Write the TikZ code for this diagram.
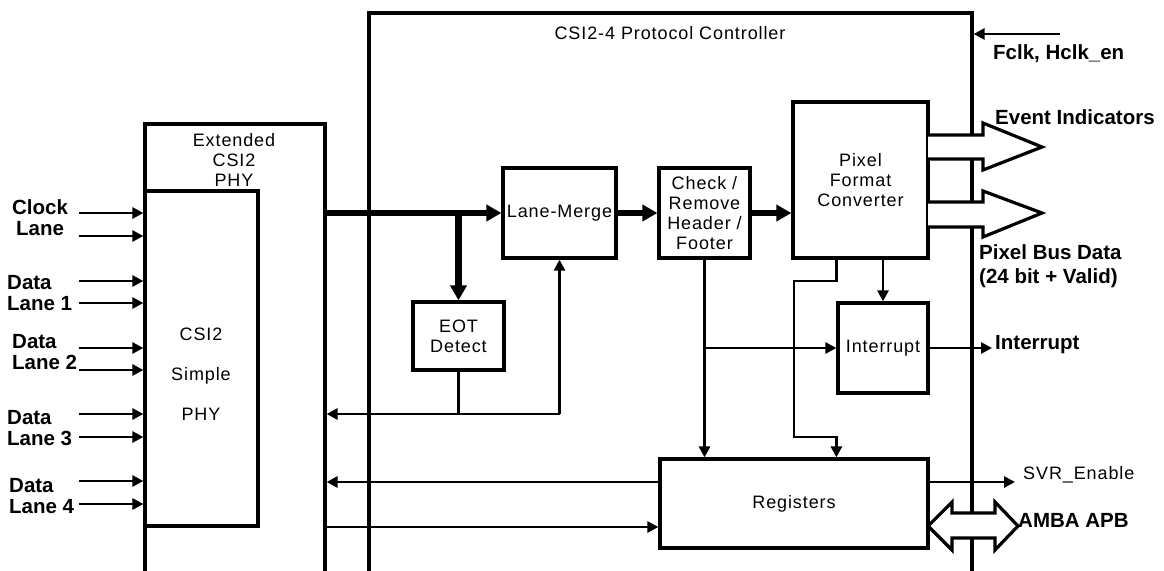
\documentclass[tikz,border=0pt]{standalone}
\usepackage{fontspec}
\setmainfont{Liberation Sans}
\newfontfamily\trk[LetterSpace=5]{Liberation Sans}
\usetikzlibrary{arrows.meta}
\begin{document}
\begin{tikzpicture}[x=1pt,y=-1pt,
  blk/.style={draw, line width=3.2pt, inner sep=0pt, font=\trk\fontsize{18}{20}\selectfont, align=center},
  arr/.style={line width=2.9pt, -{Triangle[length=11pt,width=11pt]}},
  ln/.style={line width=2.9pt},
  bus/.style={line width=6.5pt, -{Triangle[length=15pt,width=16pt]}},
  lbl/.style={font=\bfseries\fontsize{20.5}{21}\selectfont, inner sep=0pt},
  rt/.style={font=\trk\fontsize{18}{20}\selectfont, inner sep=0pt},
  hollow/.style={draw, fill=white, line width=3.2pt, line join=miter}]
\useasboundingbox (0,0) rectangle (1164,570);
\clip (0,0) rectangle (1164,570);
\fill[white] (0,0) rectangle (1164,570);

% big boxes
\node[blk, minimum width=603pt, minimum height=607pt] (pc) at (670.5,316.5) {};
\node[blk, minimum width=180pt, minimum height=496pt] (phyout) at (235,372) {};
\node[blk, minimum width=113pt, minimum height=335pt] (phyin) at (201.5,358.5) {};
\node[rt, align=center] (exttxt) at (234,160) {Extended\\CSI2\\PHY};
\node[rt, align=center, font=\trk\fontsize{18}{40}\selectfont] (simtxt) at (201,374) {CSI2\\Simple\\PHY};
\node[rt, anchor=base] (pctitle) at (670,39.5) {CSI2-4 Protocol Controller};

% inner blocks
\node[blk, minimum width=113pt, minimum height=90pt] (lm) at (559.5,213) {Lane-Merge};
\node[blk, minimum width=91pt, minimum height=90pt] (crh) at (704.5,213) {Check /\\Remove\\Header /\\Footer};
\node[blk, minimum width=135pt, minimum height=156pt] (pfc) at (860.5,180) {Pixel\\Format\\Converter};
\node[blk, minimum width=91pt, minimum height=68pt] (eot) at (458.5,336) {EOT\\Detect};
\node[blk, minimum width=90pt, minimum height=90pt] (intr) at (883,348) {Interrupt};
\node[blk, minimum width=268pt, minimum height=89pt] (reg) at (794,503.5) {Registers};

% input lanes
\foreach \n/\y in {c1/213,c2/236,d1a/281,d1b/303,d2a/348,d2b/370,d3a/414,d3b/437,d4a/481,d4b/504}{
  \coordinate (\n) at (79,\y);
  \draw[arr] (\n) -- (\n -| phyin.west);
}
\node[lbl, align=center] (lclk) at (40,217.5) {Clock\\Lane};
\node[lbl, align=left, anchor=west] (ld1) at (7,293) {Data\\Lane 1};
\node[lbl, align=left, anchor=west] (ld2) at (12,352) {Data\\Lane 2};
\node[lbl, align=left, anchor=west] (ld3) at (7,428) {Data\\Lane 3};
\node[lbl, align=left, anchor=west] (ld4) at (9,496.5) {Data\\Lane 4};

% main bus
\draw[bus] (lm.west -| phyout.east) -- (lm.west);
\draw[bus] (eot.north |- lm.west) -- (eot.north);
\draw[bus] (lm.east) -- (crh.west);
\draw[bus] (crh.east) -- (crh.east -| pfc.west);

% EOT / feedback
\coordinate (fb) at (560,414);
\draw[arr] (eot.south) |- (fb -| phyout.east);
\draw[ln] (eot.south |- fb) -- (lm.south |- fb);
\draw[arr] (lm.south |- fb) -- (lm.south);

% check -> registers / interrupt
\draw[arr] (crh.south) -- (crh.south |- reg.north);
\draw[arr] (crh.south |- intr.west) -- (intr.west);

% pixel -> interrupt / registers
\coordinate (k1) at (794,281);
\coordinate (k2) at (794,437);
\draw[arr, line join=miter] (pfc.south -| intr.west) |- (k1) -- (k2) -| (intr.west |- reg.north);
\draw[arr] (intr.north |- pfc.south) -- (intr.north);

% registers <-> phy
\coordinate (ra) at (325,482);
\coordinate (rb) at (325,527);
\draw[arr] (reg.west |- ra) -- (ra -| phyout.east);
\draw[arr] (rb -| phyout.east) -- (reg.west |- rb);

% outputs
\coordinate (iout) at (992,348);
\draw[arr] (intr.east) -- (iout);
\coordinate (svr) at (1015,482);
\draw[arr] (svr -| reg.east) -- (svr);
\coordinate (fck) at (1060,34);
\draw[arr] (fck) -- (fck -| pc.east);

% hollow bus arrows
\draw[hollow] (928,135) -- (983,135) -- (983,123) -- (1042,147) -- (983,170) -- (983,159) -- (928,159);
\draw[hollow] (928,202) -- (983,202) -- (983,191) -- (1042,213) -- (983,237) -- (983,227) -- (928,227);
\draw[hollow] (928,526) -- (952,502) -- (952,513) -- (995,513) -- (995,502) -- (1018,526) -- (995,550) -- (995,538) -- (952,538) -- (952,550) -- cycle;

% labels
\node[lbl, anchor=base west] (lfclk) at (993,59.3) {Fclk, Hclk\_en};
\node[lbl, anchor=base west] (levt) at (995,124.3) {Event Indicators};
\node[lbl, anchor=north west, align=left, font=\bfseries\fontsize{20.5}{24.5}\selectfont] (lpix) at (979,244.3) {Pixel Bus Data\\(24 bit + Valid)};
\node[lbl, anchor=base west] (lint) at (995,349.3) {Interrupt};
\node[rt, anchor=base west] (lsvr) at (1023,479.5) {SVR\_Enable};
\node[lbl, anchor=base west] (lamba) at (1018,527.3) {AMBA APB};
\end{tikzpicture}
\end{document}
